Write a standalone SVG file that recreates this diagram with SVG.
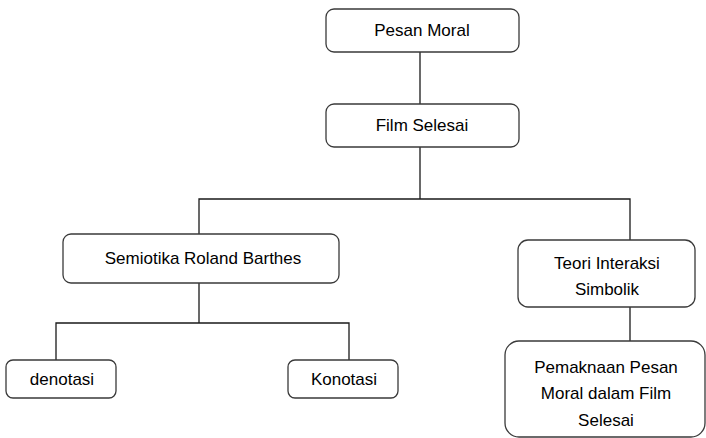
<svg xmlns="http://www.w3.org/2000/svg" width="706" height="438" viewBox="0 0 706 438">
<style>
.box{fill:#fff;stroke:#3a3a3a;stroke-width:1.3}
.ln{fill:none;stroke:#1a1a1a;stroke-width:1.3}
text{font-family:"Liberation Sans","Open Sans",sans-serif;font-size:17px;fill:#000;text-anchor:middle}
</style>
<rect width="706" height="438" fill="#fff"/>
<g id="connectors">
<path class="ln" d="M420 52V104"/>
<path class="ln" d="M420 147V199M199 234V199H630V240"/>
<path class="ln" d="M199 283V323M56 360V323H349V360"/>
<path class="ln" d="M630 307V341"/>
</g>
<g id="pesan-moral"><rect class="box" x="326" y="9" width="193" height="43" rx="8"/><text x="422" y="36">Pesan Moral</text></g>
<g id="film-selesai"><rect class="box" x="326" y="104" width="193" height="43" rx="8"/><text x="422" y="131">Film Selesai</text></g>
<g id="semiotika"><rect class="box" x="63" y="234" width="276" height="49" rx="8"/><text x="203" y="264">Semiotika Roland Barthes</text></g>
<g id="teori"><rect class="box" x="518" y="240" width="177" height="67" rx="10"/><text x="607" y="269">Teori Interaksi</text><text x="607" y="295">Simbolik</text></g>
<g id="denotasi"><rect class="box" x="6" y="360" width="110" height="38" rx="7"/><text x="62" y="385">denotasi</text></g>
<g id="konotasi"><rect class="box" x="288" y="360" width="110" height="38" rx="7"/><text x="344" y="385">Konotasi</text></g>
<g id="pemaknaan"><rect class="box" x="505" y="341" width="200" height="96" rx="14"/><text x="606" y="373">Pemaknaan Pesan</text><text x="606" y="399">Moral dalam Film</text><text x="606" y="426">Selesai</text></g>
</svg>
